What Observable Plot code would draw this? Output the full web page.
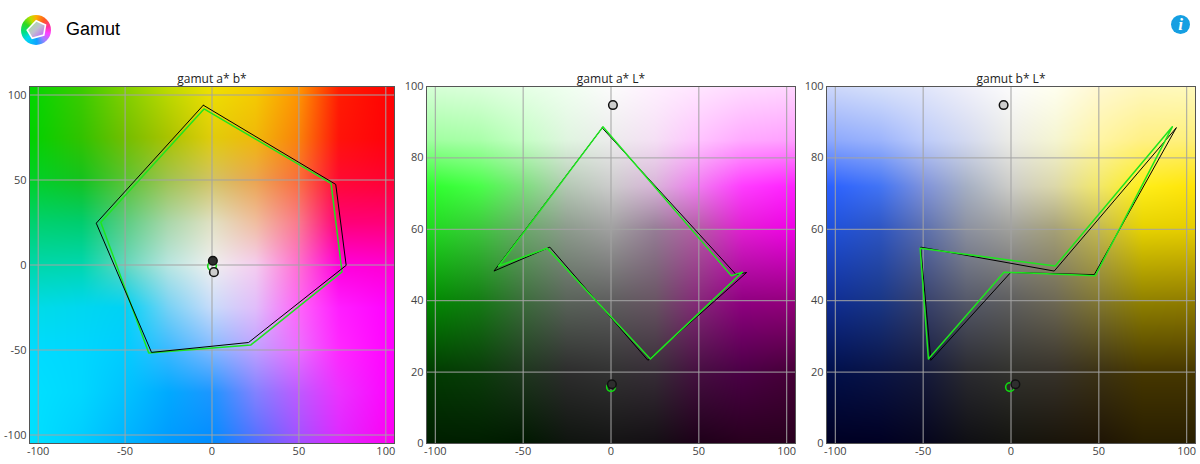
<!DOCTYPE html>
<html><head><meta charset="utf-8">
<script src="https://cdn.jsdelivr.net/npm/d3@7"></script>
<script src="https://cdn.jsdelivr.net/npm/@observablehq/plot@0.6"></script>
<style>
html,body{margin:0;padding:0;background:#fff;width:1200px;height:464px;overflow:hidden}
#root{position:relative;width:1200px;height:464px}
#logo{position:absolute;left:20.5px;top:15px;width:30px;height:30px;border-radius:50%;
 background:conic-gradient(#ffb000 0deg,#ff5a20 40deg,#ff30a0 75deg,#ff40ff 105deg,#a080ff 140deg,#10a0ff 175deg,#00d8f0 225deg,#00e080 260deg,#30d820 300deg,#b8e000 335deg,#ffb000 360deg)}
#title{position:absolute;left:66px;top:18px;font:18px/22px "Liberation Sans",Arial,sans-serif;color:#000}
#info{position:absolute;left:1171px;top:15px;width:19px;height:19px;border-radius:50%;background:#159fe2;color:#fff;
 font:italic bold 17px/19px "Liberation Serif",serif;text-align:center}
</style></head><body>
<div id="root">
 <div id="logo"><svg width="30" height="30"><defs><linearGradient id="lg" x1="0.15" y1="0.15" x2="0.85" y2="0.85"><stop offset="0" stop-color="#a8e0a0"/><stop offset="0.5" stop-color="#c0c0d0"/><stop offset="1" stop-color="#c070f0"/></linearGradient></defs><polygon points="15.2,5.7 24.5,10 22.8,20 11.2,23.3 6.2,15" fill="url(#lg)" stroke="#fff" stroke-width="1.6"/></svg></div>
 <div id="title">Gamut</div>
 <div id="info">i</div>
</div>
<script>
// tick labels
const abTicks = [-100, -50, 0, 50, 100];
const lTicks = [0, 20, 40, 60, 80, 100];
// gamut polygons, black = measured, green = reference
const blackA = [-5, 71.2, 77.2, 21, -34.8, -66.6];
const blackB = [94, 47.4, -0.2, -45.6, -51.4, 24.6];
const blackL = [88.4, 47.3, 47.9, 23.3, 55, 48.3];
const greenA = [-4.6, 68.5, 74.8, 22.4, -36.4, -64];
const greenB = [91.8, 48, -4, -47, -51.7, 25.2];
const greenL = [88.7, 47, 48, 23.7, 54.7, 49.7];
// white and black points
const whitePoint = {a: 1.1, b: -4.2, L: 94.8};
const darkPoint = {a: 0.5, b: 2.5, L: 16.6};
const greenDarkPoint = {a: 0, b: -0.6, L: 15.8};
// background colours
const abKnotsA = [-105, -75, -50, -25, 0, 25, 50, 73, 105];
const abKnotsB = [105, 75, 50, 25, 0, -25, -50, -75, -105];
const abColors = [
 "00d700 3ccd00 82d200 bedc00 f0e100 f5cd00 ff9600 ff1e00 ff0000",
 "00d200 32c300 73be00 aac300 e1cd0a f0b90a fa820a ff140a ff000a",
 "00d228 14c31e 5ac332 a0c350 d2c364 eba550 fa6e3c ff0a32 ff0032",
 "00d26e 00cd6e 5acd82 aad7aa e1e1c3 f0bea0 fa788c ff0078 ff0078",
 "00d7aa 00d7af 64d7be b9e6e1 f0f0f0 f5cdf0 ff6ed2 ff00dc ff00d2",
 "00dce6 00d7f0 00d2f5 78d2f5 c8dcfa e1befa ff64fa ff1eff ff00ff",
 "00dcff 00d7ff 00cdff 3cb9ff 82b9ff bea0ff eb6eff ff28ff ff00ff",
 "00e1ff 00d7ff 00c3ff 00aaff 1e96ff 8282ff be5aff eb32ff ff00ff",
 "00e1ff 00cdff 00b4ff 009bff 008cff 506eff a050ff dc28ff ff00f0"
];
const sideKnotsX = [-105, -75, -50, -25, 0, 25, 50, 75, 105];
const sideKnotsL = [100, 85, 72, 60, 40, 20, 0];
const aLColors = [
 "d7ffd7 dcffdc e6ffe6 f0fff0 fcfcfc fff0ff ffe6ff ffdcff ffd7ff",
 "a0ffa0 aaffaa c4ffc4 e0f5e0 ececec f5e0f5 ffc4ff ffaaff ffa0ff",
 "2cff2c 48ff48 7ce07c b4c8b4 cccccc d8b4d8 f07cf0 ff3cff ff20ff",
 "1edc1e 3cc83c 69aa69 8c9b8c a0a0a0 967d96 b45aa5 e11ed2 f000e6",
 "008c00 147d14 3c6e3c 5a645a 5f5f5f 695564 87287a 910082 96007d",
 "003c00 0a3c0a 1e371e 2d2d2d 323232 372d37 460f41 4b0046 460037",
 "001e00 001e00 001900 0f140f 141414 140f14 1e0019 28001e 28001e"
];
const bLColors = [
 "cdd7fa d7e1fa e1e6fa f0f0fa fcfcfc fffff0 fff8d2 fff8be fffabe",
 "8ca8fc 9cb4fc bccbfa d4daf0 ecece6 f5f5d2 fff5a5 fff085 fff07a",
 "2a60ff 4274f5 7e92dc a6b0c4 cdcdc8 dcd8aa f2e86a ffee1a ffe408",
 "1e50dc 2d55c3 5a6eaf 8c91a0 a0a09b a5a078 c3b950 e6d200 e6cd00",
 "0f2d96 193787 37416e 55596a 5f5f5f 6e6955 827832 918200 917d00",
 "000f4b 0a1446 14193c 2a2a30 32322d 37322a 3c3214 463700 463700",
 "000023 000023 05051e 0f0f14 14140f 19140a 1e1405 281e00 281e00"
];

function sampler(xs, ys, rows) {
  const grid = rows.map(r => r.split(" ").map(h => { const c = d3.rgb("#" + h); return [c.r, c.g, c.b]; }));
  const locate = (k, v) => {
    const asc = k[0] < k[k.length - 1];
    let i = 0;
    while (i < k.length - 2 && (asc ? v > k[i + 1] : v < k[i + 1])) i++;
    const t = Math.max(0, Math.min(1, (v - k[i]) / (k[i + 1] - k[i])));
    return [i, t];
  };
  return (x, y) => {
    const [i, s] = locate(xs, x), [j, t] = locate(ys, y);
    const out = [0, 1, 2].map(n =>
      Math.round((grid[j][i][n] * (1 - s) + grid[j][i + 1][n] * s) * (1 - t) +
                 (grid[j + 1][i][n] * (1 - s) + grid[j + 1][i + 1][n] * s) * t));
    return `rgb(${out[0]},${out[1]},${out[2]})`;
  };
}
const loop = (xs, ys) => [...xs, xs[0]].map((x, i) => ({x, y: [...ys, ys[0]][i]}));
const gridColor = "#a3a3a3", frameColor = "#555", textColor = "#444";
const lineGreen = "#1ee61e", ringGreen = "#10d810";

function panel({left, marginLeft, marginRight, title, xk, yk, rows, yDomain, yTicks, black, green, blackOnTop, white, dark, ring}) {
  const lineMarks = [
    Plot.line(green, {x: "x", y: "y", stroke: lineGreen, strokeWidth: 1.5}),
    Plot.line(black, {x: "x", y: "y", stroke: "#000", strokeWidth: 1})
  ];
  const fig = Plot.plot({
    width: 400, height: 400, marginTop: 26, marginBottom: 17, marginLeft, marginRight,
    style: {background: "transparent", fontFamily: "'Open Sans', sans-serif", fontSize: "11px", overflow: "visible"},
    x: {domain: [-105, 105], label: null},
    y: {domain: yDomain, label: null},
    color: {type: "identity"},
    marks: [
      Plot.raster({fill: sampler(xk, yk, rows), x1: -105, x2: 105, y1: yDomain[0], y2: yDomain[1], pixelSize: 1}),
      Plot.ruleX(abTicks, {stroke: gridColor, strokeWidth: 1}),
      Plot.ruleY(yTicks, {stroke: gridColor, strokeWidth: 1}),
      Plot.frame({stroke: frameColor, strokeWidth: 1}),
      Plot.axisX({ticks: abTicks, tickSize: 0, tickPadding: 4, tickFormat: d => String(d), fill: textColor, fontSize: 11, label: null}),
      Plot.axisY({ticks: yTicks, tickSize: 0, tickPadding: 3, tickFormat: d => String(d), fill: textColor, fontSize: 11, label: null}),
      ...(blackOnTop ? lineMarks : lineMarks.reverse()),
      Plot.dot([ring], {x: "x", y: "y", r: 4.3, stroke: ringGreen, strokeWidth: 1.6, fill: "none"}),
      Plot.dot([white], {x: "x", y: "y", r: 4.3, stroke: "#111", strokeWidth: 1.5, fill: "#cdcdcd"}),
      Plot.dot([dark], {x: "x", y: "y", r: 4.3, stroke: "#111", strokeWidth: 1.5, fill: "#2e2e2e"}),
      Plot.text([title], {frameAnchor: "top", dy: -3.5, text: d => d, fill: "#222", fontSize: 12, lineAnchor: "bottom"})
    ]
  });
  fig.style.left = left + "px";
  fig.style.position = "absolute";
  fig.style.top = "60px";
  document.getElementById("root").appendChild(fig);
}

panel({left: 0, marginLeft: 29, marginRight: 6, title: "gamut a* b*", xk: abKnotsA, yk: abKnotsB, rows: abColors,
  yDomain: [-105, 105], yTicks: abTicks, black: loop(blackA, blackB), green: loop(greenA, greenB), blackOnTop: true,
  white: {x: whitePoint.a, y: whitePoint.b}, dark: {x: darkPoint.a, y: darkPoint.b}, ring: {x: greenDarkPoint.a, y: greenDarkPoint.b}});
panel({left: 400, marginLeft: 26, marginRight: 5, title: "gamut a* L*", xk: sideKnotsX, yk: sideKnotsL, rows: aLColors,
  yDomain: [0, 100], yTicks: lTicks, black: loop(blackA, blackL), green: loop(greenA, greenL), blackOnTop: false,
  white: {x: whitePoint.a, y: whitePoint.L}, dark: {x: darkPoint.a, y: darkPoint.L}, ring: {x: greenDarkPoint.a, y: greenDarkPoint.L}});
panel({left: 800, marginLeft: 26, marginRight: 5, title: "gamut b* L*", xk: sideKnotsX, yk: sideKnotsL, rows: bLColors,
  yDomain: [0, 100], yTicks: lTicks, black: loop(blackB, blackL), green: loop(greenB, greenL), blackOnTop: false,
  white: {x: whitePoint.b, y: whitePoint.L}, dark: {x: darkPoint.b, y: darkPoint.L}, ring: {x: greenDarkPoint.b, y: greenDarkPoint.L}});
</script>
</body></html>
